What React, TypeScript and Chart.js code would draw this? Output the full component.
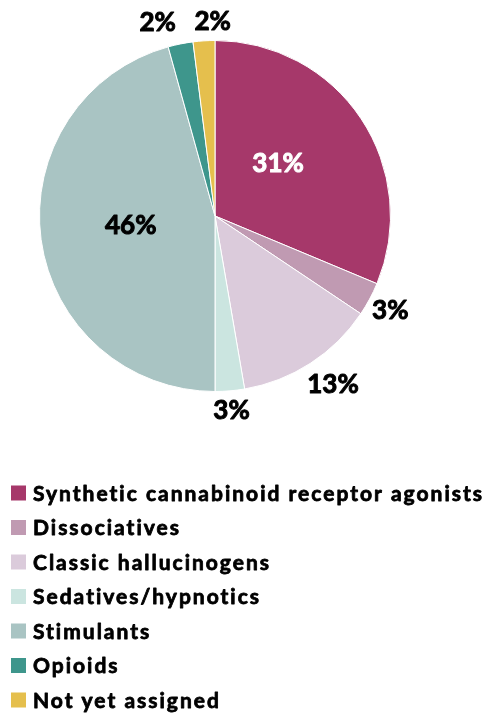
import React, { useEffect, useRef } from "react";
import { Chart, registerables } from "chart.js";

Chart.register(...registerables);

const categories = [
  "Synthetic cannabinoid receptor agonists",
  "Dissociatives",
  "Classic hallucinogens",
  "Sedatives/hypnotics",
  "Stimulants",
  "Opioids",
  "Not yet assigned",
];
const shares = [31.3, 3.1, 12.9, 2.7, 45.7, 2.3, 2.0];
const colors = ["#A6386A", "#C09AB2", "#DBCBDB", "#CBE5E0", "#A9C4C3", "#3E968C", "#E5BF4D"];

// label styling: radial distance from centre, nudge, colour
const labelStyle = [
  { r: 83, dx: -6, dy: -6, color: "#FFFFFF" },
  { r: 199, dx: 0, dy: 0, color: "#000000" },
  { r: 206, dx: 6, dy: -4, color: "#000000" },
  { r: 195, dx: 0, dy: 0, color: "#000000" },
  { r: 85, dx: 0, dy: -2, color: "#000000" },
  { r: 200, dx: -18, dy: 3, color: "#000000" },
  { r: 196, dx: 10, dy: 1, color: "#000000" },
];

const FONT = "Lato, 'Open Sans', sans-serif";

function heavyText(ctx: any, text: string, x: number, y: number, color: string, w: number) {
  ctx.fillStyle = color;
  ctx.strokeStyle = color;
  ctx.lineWidth = w;
  ctx.lineJoin = "round";
  ctx.strokeText(text, x, y);
  ctx.fillText(text, x, y);
}

const labelPlugin = {
  id: "pctLabels",
  afterDatasetsDraw(chart: any) {
    const ctx = chart.ctx;
    const meta = chart.getDatasetMeta(0);
    ctx.save();
    ctx.font = `bold 26px ${FONT}`;
    ctx.textAlign = "center";
    ctx.textBaseline = "middle";
    meta.data.forEach((arc: any, i: number) => {
      const { x, y, startAngle, endAngle } = arc.getProps(["x", "y", "startAngle", "endAngle"], true);
      const a = (startAngle + endAngle) / 2;
      const s = labelStyle[i];
      const px = x + Math.cos(a) * s.r + s.dx;
      const py = y + Math.sin(a) * s.r + s.dy;
      heavyText(ctx, `${Math.round(shares[i])}%`, px, py, s.color, 1);
    });
    ctx.restore();
  },
};

const legendPlugin = {
  id: "listLegend",
  afterDraw(chart: any) {
    const ctx = chart.ctx;
    const top = 485;
    const step = 34.5;
    const box = 15;
    ctx.save();
    ctx.font = `bold 21px ${FONT}`;
    ctx.textBaseline = "alphabetic";
    ctx.textAlign = "left";
    (ctx as any).letterSpacing = "2px";
    (chart.data.labels as string[]).forEach((lab, i) => {
      const cy = top + i * step;
      ctx.fillStyle = colors[i];
      ctx.fillRect(3, cy - box / 2, box, box);
      heavyText(ctx, lab, 25, cy + 7.5, "#000000", 0.8);
    });
    ctx.restore();
  },
};

export default function App() {
  const ref = useRef<HTMLCanvasElement | null>(null);
  useEffect(() => {
    if (!ref.current) return;
    const chart = new Chart(ref.current, {
      type: "pie",
      data: {
        labels: categories,
        datasets: [
          {
            data: shares,
            backgroundColor: colors,
            borderColor: "#FFFFFF",
            borderWidth: 1,
          },
        ],
      },
      options: {
        animation: false,
        responsive: true,
        maintainAspectRatio: false,
        layout: { padding: { top: 32, left: 31, right: 98, bottom: 322 } },
        plugins: {
          legend: { display: false },
          tooltip: { enabled: false },
        },
      },
      plugins: [labelPlugin, legendPlugin],
    });
    return () => chart.destroy();
  }, []);
  return (
    <div style={{ width: 481, height: 706, position: "relative" }}>
      <canvas ref={ref} />
    </div>
  );
}
